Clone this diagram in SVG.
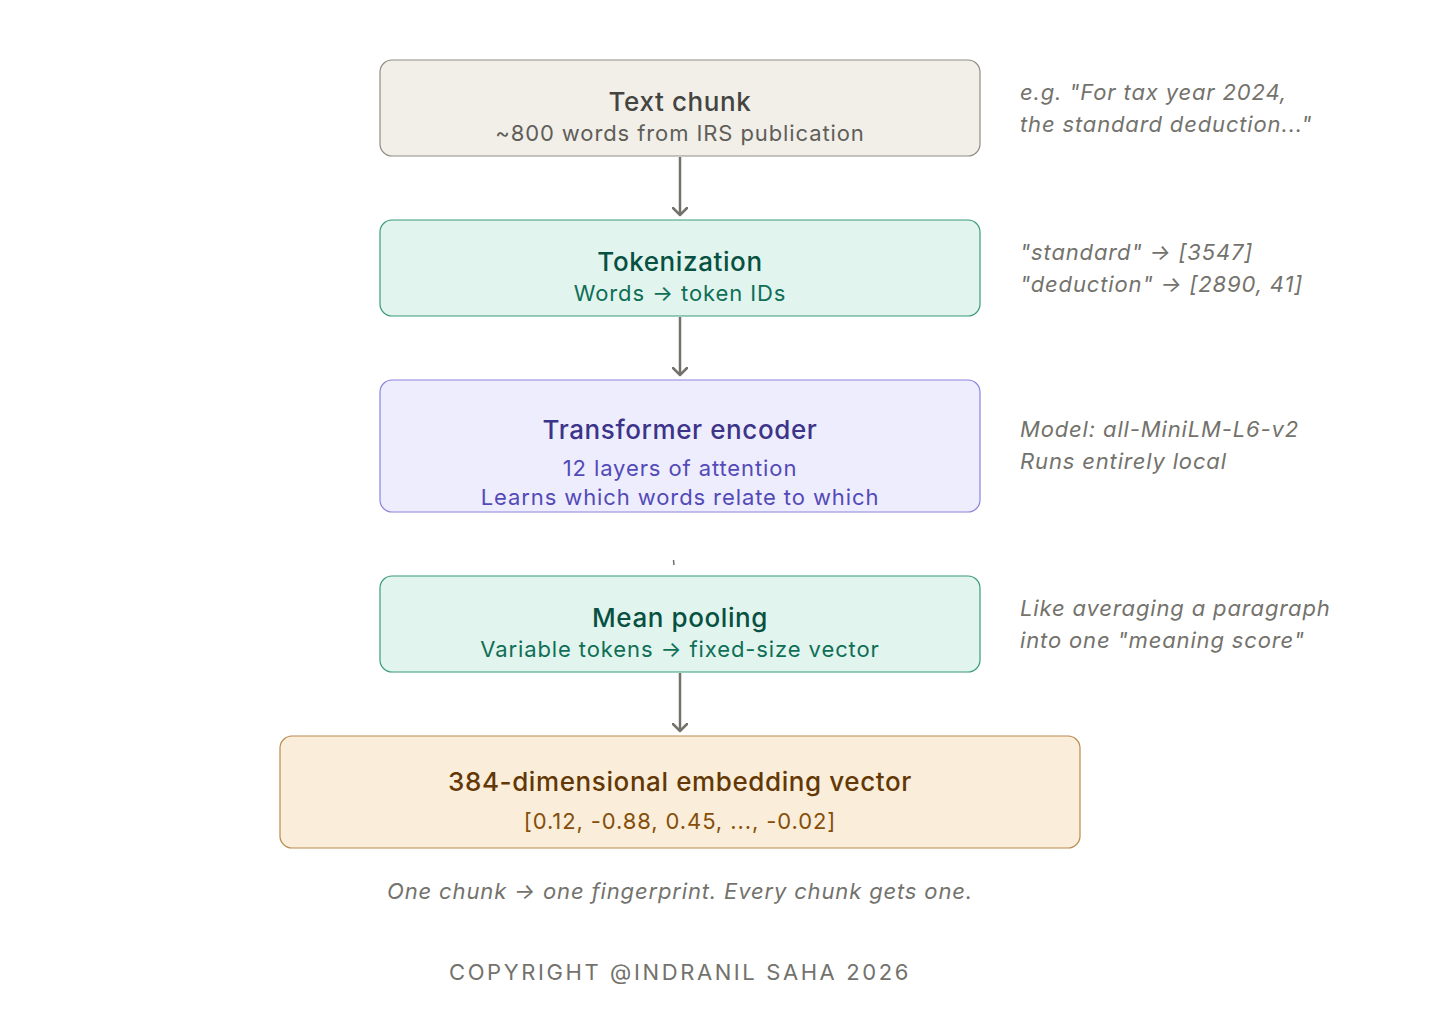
<svg xmlns="http://www.w3.org/2000/svg" width="1440" height="1020" viewBox="0 0 1440 1020">
<defs>
<style>
text{font-family:Inter,"Noto Sans","Liberation Sans",sans-serif;}
.t{font-size:26px;font-weight:500;text-anchor:middle;letter-spacing:0.6px;}
.s{font-size:22px;text-anchor:middle;letter-spacing:0.9px;}
.n{font-size:22px;font-style:italic;fill:#73726c;letter-spacing:0.85px;}
.box{stroke-width:1.2;}
.conn{stroke:#73726c;stroke-width:2.5;fill:none;}
</style>
<marker id="ah" markerWidth="16" markerHeight="16" refX="8" refY="8" orient="auto" markerUnits="userSpaceOnUse" viewBox="0 0 16 16">
<path d="M1,1 L8,8 L1,15" fill="none" stroke="#73726c" stroke-width="2.5" stroke-linecap="round" stroke-linejoin="round"/>
</marker>
</defs>
<rect width="1440" height="1020" fill="#ffffff"/>
<g id="connectors">
<path class="conn" d="M680,157 L680,215" marker-end="url(#ah)"/>
<path class="conn" d="M680,317 L680,375" marker-end="url(#ah)"/>
<path d="M673.5,560 L674,565" stroke="#73726c" stroke-width="1.5" fill="none"/>
<path class="conn" d="M680,673 L680,731" marker-end="url(#ah)"/>
</g>
<g id="node-text-chunk">
<rect class="box" x="380" y="60" width="600" height="96" rx="12" fill="#f1efe8" stroke="#8d8b84"/>
<text class="t" x="680" y="111" fill="#444441">Text chunk</text>
<text class="s" x="680" y="141" fill="#5f5e5a">~800 words from IRS publication</text>
</g>
<g id="node-tokenization">
<rect class="box" x="380" y="220" width="600" height="96" rx="12" fill="#e1f5ee" stroke="#3a9a7a"/>
<text class="t" x="680" y="271" fill="#085041">Tokenization</text>
<text class="s" x="680" y="301" fill="#0f6e56">Words → token IDs</text>
</g>
<g id="node-transformer">
<rect class="box" x="380" y="380" width="600" height="132" rx="12" fill="#eeedfe" stroke="#8b84dc"/>
<text class="t" x="680" y="439" fill="#3c3489">Transformer encoder</text>
<text class="s" x="680" y="476" fill="#534ab7">12 layers of attention</text>
<text class="s" x="680" y="505" fill="#534ab7">Learns which words relate to which</text>
</g>
<g id="node-mean-pooling">
<rect class="box" x="380" y="576" width="600" height="96" rx="12" fill="#e1f5ee" stroke="#3a9a7a"/>
<text class="t" x="680" y="627" fill="#085041">Mean pooling</text>
<text class="s" x="680" y="657" fill="#0f6e56">Variable tokens → fixed-size vector</text>
</g>
<g id="node-embedding">
<rect class="box" x="280" y="736" width="800" height="112" rx="12" fill="#faeeda" stroke="#b98a4f"/>
<text class="t" x="680" y="791" fill="#633806">384-dimensional embedding vector</text>
<text class="s" x="680" y="829" fill="#854f0b">[0.12, -0.88, 0.45, ..., -0.02]</text>
</g>
<g id="notes">
<text class="n" x="1020" y="100">e.g. "For tax year 2024,</text>
<text class="n" x="1020" y="132">the standard deduction..."</text>
<text class="n" x="1020" y="260">"standard" → [3547]</text>
<text class="n" x="1020" y="292">"deduction" → [2890, 41]</text>
<text class="n" x="1020" y="437">Model: all-MiniLM-L6-v2</text>
<text class="n" x="1020" y="469">Runs entirely local</text>
<text class="n" x="1020" y="616">Like averaging a paragraph</text>
<text class="n" x="1020" y="648">into one "meaning score"</text>
</g>
<g id="footer">
<text class="n" x="680" y="899" text-anchor="middle">One chunk → one fingerprint. Every chunk gets one.</text>
<text x="680" y="980" text-anchor="middle" font-size="22" fill="#73726c" letter-spacing="2.6">COPYRIGHT @INDRANIL SAHA 2026</text>
</g>
</svg>
